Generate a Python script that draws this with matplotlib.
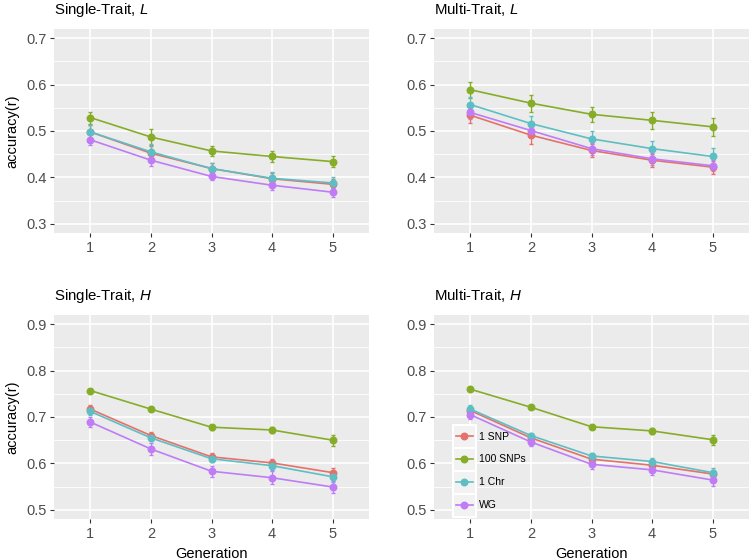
import matplotlib
matplotlib.use('Agg')
import matplotlib.pyplot as plt
from matplotlib.patches import Rectangle
from matplotlib.lines import Line2D
from matplotlib.ticker import MultipleLocator, FormatStrFormatter

plt.rcParams['font.family'] = ['Liberation Sans', 'DejaVu Sans']
plt.rcParams['mathtext.fontset'] = 'custom'
plt.rcParams['mathtext.rm'] = 'Liberation Sans'
plt.rcParams['mathtext.it'] = 'Liberation Sans:italic'

generation = [1, 2, 3, 4, 5]
groups = ['1 SNP', '100 SNPs', '1 Chr', 'WG']
colors = ['#E5716A', '#86AD28', '#5DBFC4', '#BF7CF6']

# accuracy per group (1 SNP, 100 SNPs, 1 Chr, WG) and error bar half widths
single_L = [[0.498, 0.452, 0.419, 0.397, 0.385],
            [0.529, 0.487, 0.457, 0.445, 0.434],
            [0.498, 0.455, 0.419, 0.398, 0.388],
            [0.481, 0.437, 0.402, 0.383, 0.368]]
single_L_err = [[0.015, 0.016, 0.012, 0.013, 0.012],
                [0.013, 0.017, 0.010, 0.012, 0.011],
                [0.015, 0.016, 0.012, 0.013, 0.012],
                [0.012, 0.013, 0.008, 0.011, 0.010]]

multi_L = [[0.534, 0.491, 0.458, 0.437, 0.422],
           [0.589, 0.560, 0.536, 0.523, 0.509],
           [0.557, 0.516, 0.483, 0.462, 0.445],
           [0.540, 0.501, 0.462, 0.440, 0.425]]
multi_L_err = [[0.017, 0.019, 0.015, 0.014, 0.014],
               [0.017, 0.018, 0.016, 0.018, 0.019],
               [0.016, 0.017, 0.017, 0.017, 0.018],
               [0.015, 0.014, 0.013, 0.013, 0.012]]

single_H = [[0.717, 0.660, 0.614, 0.601, 0.580],
            [0.757, 0.717, 0.678, 0.672, 0.650],
            [0.712, 0.655, 0.610, 0.595, 0.571],
            [0.689, 0.631, 0.583, 0.569, 0.549]]
single_H_err = [[0.008, 0.007, 0.008, 0.009, 0.011],
                [0.004, 0.004, 0.005, 0.007, 0.012],
                [0.008, 0.006, 0.006, 0.010, 0.011],
                [0.011, 0.012, 0.012, 0.014, 0.012]]

multi_H = [[0.714, 0.655, 0.609, 0.596, 0.577],
           [0.760, 0.721, 0.679, 0.670, 0.651],
           [0.717, 0.660, 0.616, 0.604, 0.580],
           [0.705, 0.646, 0.598, 0.586, 0.564]]
multi_H_err = [[0.006, 0.006, 0.006, 0.008, 0.009],
               [0.004, 0.004, 0.004, 0.007, 0.011],
               [0.008, 0.005, 0.007, 0.007, 0.011],
               [0.010, 0.008, 0.010, 0.011, 0.012]]

panels = [
    ('Single-Trait, $\\mathit{L}$', single_L, single_L_err, 0.3, [54, 327]),
    ('Multi-Trait, $\\mathit{L}$', multi_L, multi_L_err, 0.3, [434, 327]),
    ('Single-Trait, $\\mathit{H}$', single_H, single_H_err, 0.5, [54, 41]),
    ('Multi-Trait, $\\mathit{H}$', multi_H, multi_H_err, 0.5, [434, 41]),
]

W, H = 752, 560
fig = plt.figure(figsize=(W / 100, H / 100), dpi=100)
axes = []
for i, (title, acc, err, ylo, (px, py)) in enumerate(panels):
    ax = fig.add_axes([px / W, py / H, 315 / W, 204 / H])
    ax.set_facecolor('#EBEBEB')
    for s in ax.spines.values():
        s.set_visible(False)
    ax.set_axisbelow(True)
    ax.set_xlim(0.4, 5.6)
    ax.set_ylim(ylo - 0.02, ylo + 0.42)
    ax.set_xticks(generation)
    ax.yaxis.set_major_locator(MultipleLocator(0.1))
    ax.yaxis.set_minor_locator(MultipleLocator(0.05))
    ax.yaxis.set_major_formatter(FormatStrFormatter('%.1f'))
    ax.grid(which='major', color='white', lw=1.2)
    ax.grid(which='minor', axis='y', color='white', lw=0.6)
    ax.tick_params(which='major', length=3, width=0.8, color='#333333',
                   labelcolor='#4D4D4D', labelsize=10.5)
    ax.tick_params(axis='y', pad=2)
    ax.tick_params(axis='x', pad=3)
    ax.tick_params(which='minor', length=0)
    for k in range(len(groups)):
        ax.errorbar(generation, acc[k], yerr=err[k], color=colors[k], marker='o',
                    ms=4.7, lw=1.2, elinewidth=1.0, capsize=1.5, capthick=1.0)
    ax.set_title(title, loc='left', fontsize=10.8, pad=11)
    if i % 2 == 0:
        ax.set_ylabel('accuracy(r)', fontsize=10.5, labelpad=5)
    if i >= 2:
        ax.set_xlabel('Generation', fontsize=10.5, labelpad=4)
    axes.append(ax)

# legend inside the last panel, ggplot style keys
ax = axes[3]
handles = [Line2D([], [], color=c, marker='o', ms=4.7, lw=1.2) for c in colors]
leg = ax.legend(handles, groups, loc='upper left',
                bbox_to_anchor=((456 - 434) / 315, 1 - (431.5 - 315) / 204),
                frameon=False, fontsize=7.5, borderpad=0, borderaxespad=0,
                handlelength=1.63, handletextpad=0.58, labelspacing=1.24)
leg.set_zorder(6)
fig.canvas.draw()
inv = ax.transAxes.inverted()
x0 = (453 - 434) / 315
x1 = (476 - 434) / 315
for t in leg.get_texts():
    bb = t.get_window_extent()
    yc = inv.transform((0, (bb.y0 + bb.y1) / 2))[1]
    hh = 22.5 / 204
    ax.add_patch(Rectangle((x0, yc - hh / 2), x1 - x0, hh, transform=ax.transAxes,
                           facecolor='#F2F2F2', edgecolor='white', lw=1.5,
                           zorder=5, clip_on=False))

fig.savefig('out.png', dpi=100)
